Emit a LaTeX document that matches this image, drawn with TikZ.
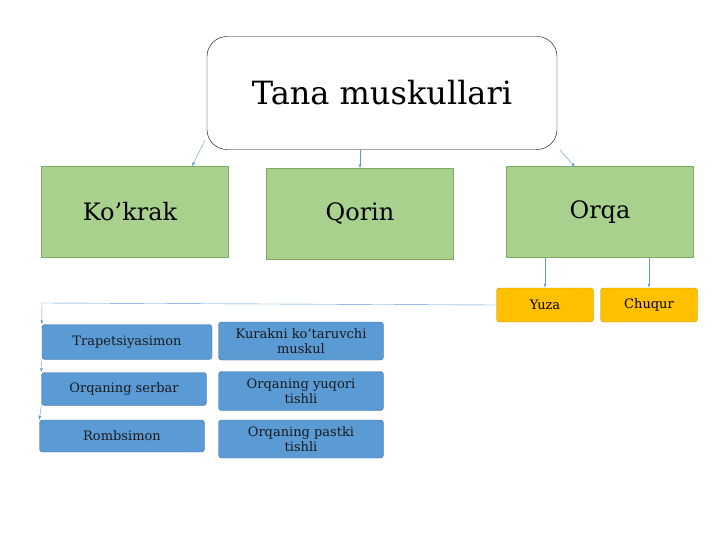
\documentclass[tikz,border=0pt]{standalone}
\usepackage{fontspec}
\setmainfont{DejaVu Serif}
\usetikzlibrary{positioning}
\definecolor{greenfill}{RGB}{169,209,142}
\definecolor{greenline}{RGB}{130,170,100}
\definecolor{goldfill}{RGB}{255,192,0}
\definecolor{goldline}{RGB}{200,150,20}
\definecolor{bluefill}{RGB}{91,155,213}
\definecolor{blueline}{RGB}{65,113,156}
\definecolor{arrowblue}{RGB}{91,155,213}
\tikzset{
  topbox/.style={draw,rounded corners=20pt,minimum width=350pt,minimum height=113pt,font=\fontsize{32}{36}\selectfont},
  groupbox/.style={draw=greenline,fill=greenfill,minimum width=187pt,minimum height=91pt,font=\fontsize{24}{28}\selectfont},
  subbox/.style={draw=goldline,fill=goldfill,rounded corners=3pt,minimum width=97pt,minimum height=34pt,font=\fontsize{13}{15}\selectfont},
  itembox/.style={draw=blueline,fill=bluefill,rounded corners=3pt,minimum width=165pt,align=center,font=\fontsize{13}{15}\selectfont,text=black!90},
  arr/.style={draw=arrowblue,->,>=latex,thin}
}
\begin{document}
\begin{tikzpicture}[x=1pt,y=-1pt]
\useasboundingbox (0,0) rectangle (720,540);
\node[topbox] (tana) at (382,93) {Tana muskullari};
\node[groupbox] (kokrak) at (135,212) {Ko’krak\hspace*{10pt}};
\node[groupbox] (qorin) at (360,214) {Qorin};
\node[groupbox] (orqa) at (600,212) {Orqa};
\node[subbox] (yuza) at (545,305) {Yuza};
\node[subbox] (chuqur) at (649,305) {Chuqur};
\node[itembox,minimum width=170pt,minimum height=35pt] (trap) at (127,342) {Trapetsiyasimon};
\node[itembox,minimum height=38pt] (kurakni) at (301,341) {Kurakni ko’taruvchi\\muskul};
\node[itembox,minimum height=33pt] (serbar) at (124,389) {Orqaning serbar};
\node[itembox,minimum height=39pt] (yuqori) at (301,391) {Orqaning yuqori\\tishli};
\node[itembox,minimum height=32pt] (romb) at (122,436) {Rombsimon};
\node[itembox,minimum height=38pt] (pastki) at (301,439) {Orqaning pastki\\tishli};
\coordinate (c1) at (42,303);
\draw[arr] (205,140) -- (kokrak.north -| 192,0);
\draw[arr] (tana.south -| qorin.north) -- (qorin.north);
\draw[arr] (560,150) -- (575,167);
\draw[arr] (orqa.south -| yuza) -- (yuza.north);
\draw[arr] (orqa.south -| chuqur) -- (chuqur.north);
\draw[arr] (yuza.west) -- (c1) -- (trap.north west);
\draw[arr] (trap.south west) -- (serbar.north west);
\draw[arr] (serbar.south west) -- (romb.north west);
\end{tikzpicture}
\end{document}
